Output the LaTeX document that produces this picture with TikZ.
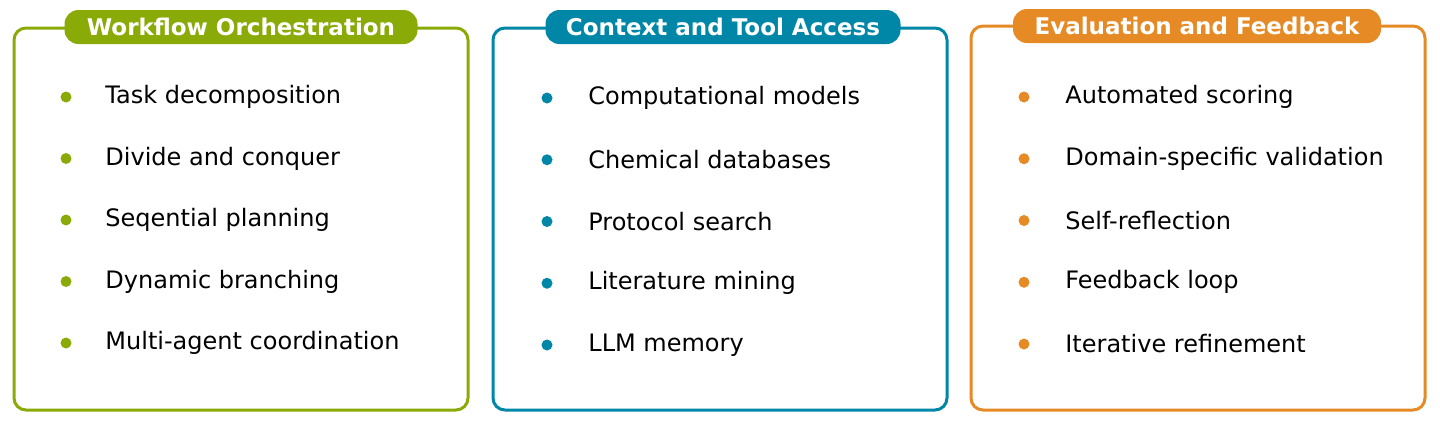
\documentclass[tikz,border=0pt]{standalone}
\usepackage{fontspec}
\setmainfont{DejaVu Sans}
\definecolor{cg}{HTML}{8AAA08}
\definecolor{cb}{HTML}{0087A8}
\definecolor{co}{HTML}{E68A25}
\begin{document}
\begin{tikzpicture}[x=0.5pt,y=-0.5pt,
 panel/.style={line width=1.5pt,rounded corners=6pt},
 pill/.style={rounded corners=7pt,text=white,font=\fontsize{11.5}{13}\selectfont\bfseries,inner xsep=6pt,minimum height=17pt,anchor=center},
 item/.style={anchor=west,font=\fontsize{12}{14}\selectfont,inner sep=0pt},
 dot/.style={circle,inner sep=0pt,minimum size=5.5pt}]
\useasboundingbox (0,0) rectangle (1440,420);
\def\panel#1#2#3#4#5#6#7#8#9{}
% panel 1
\draw[panel,cg] (14,28) rectangle (468,410);
\node[pill,fill=cg,minimum width=176.5pt] (t1) at (241,27) {Workflow Orchestration};
\foreach \t [count=\i] in {Task decomposition,Divide and conquer,Seqential planning,Dynamic branching,Multi-agent coordination}{
 \node[dot,fill=cg] (a\i) at (66,{97+61.5*(\i-1)}) {};
 \node[item] (at\i) at (105,{97+61.5*(\i-1)}) {\t};}
% panel 2
\draw[panel,cb] (493,28) rectangle (947,410);
\node[pill,fill=cb,minimum width=177.5pt] (t2) at (723,27) {Context and Tool Access};
\foreach \t [count=\i] in {Computational models,Chemical databases,Protocol search,Literature mining,LLM memory}{
 \node[dot,fill=cb] (b\i) at (547,{98+61.75*(\i-1)}) {};
 \node[item] (bt\i) at (588,{98+61.75*(\i-1)}) {\t};}
% panel 3
\draw[panel,co] (971,26) rectangle (1425,410);
\node[pill,fill=co,minimum width=184pt] (t3) at (1197,26) {Evaluation and Feedback};
\foreach \t [count=\i] in {Automated scoring,Domain-specific validation,Self-reflection,Feedback loop,Iterative refinement}{
 \node[dot,fill=co] (c\i) at (1024,{97+61.75*(\i-1)}) {};
 \node[item] (ct\i) at (1065,{97+61.75*(\i-1)}) {\t};}
\end{tikzpicture}
\end{document}
